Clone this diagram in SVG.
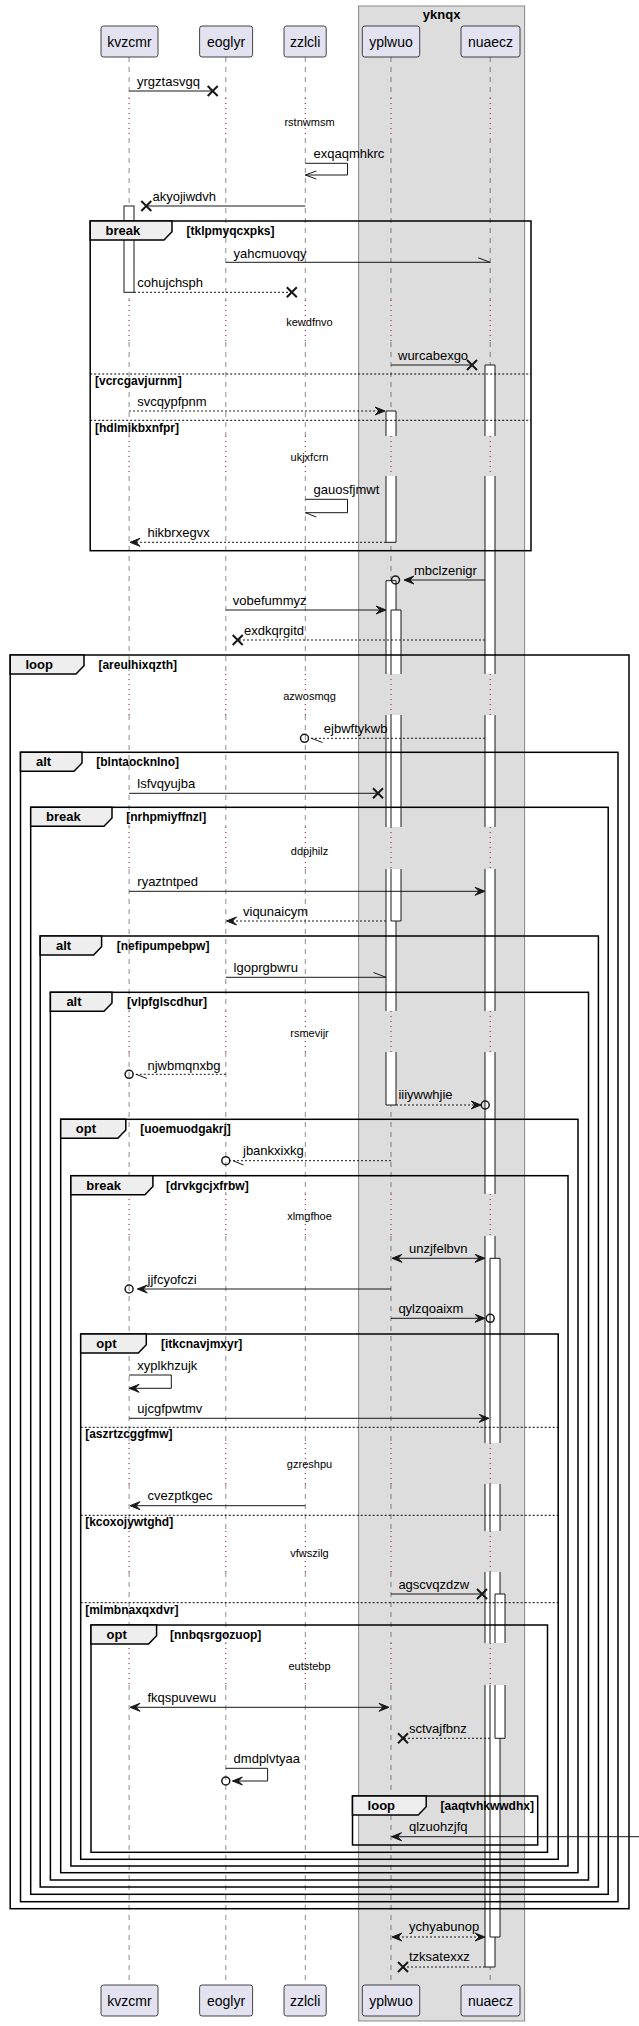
<svg xmlns="http://www.w3.org/2000/svg" xmlns:xlink="http://www.w3.org/1999/xlink" width="639" height="2026" viewBox="0 0 639 2026">
<style>
text{font-family:"Liberation Sans",Arial,sans-serif;fill:#000}
.pt{font-size:14px;text-anchor:middle}
.m{font-size:13px}
.dt{font-size:11px;text-anchor:middle}
.fl{font-size:13px;font-weight:bold}
.fc{font-size:12px;font-weight:bold}
.bt{font-size:13px;font-weight:bold;text-anchor:middle}
.pbox{fill:#E2E2F0;stroke:#181818;stroke-width:0.8}
.lld{fill:none;stroke:#181818;stroke-width:0.5;stroke-dasharray:5,5}
.llt{fill:none;stroke:#A80036;stroke-width:1;stroke-dasharray:1,4}
.af{fill:#fff;stroke:none}
.ao{fill:none;stroke:#181818;stroke-width:1}
.ln{fill:none;stroke:#181818;stroke-width:1}
.ds{stroke-dasharray:2,2}
.ah{fill:#181818;stroke:#181818;stroke-width:1}
.x{stroke:#181818;stroke-width:2}
.ci{fill:none;stroke:#181818;stroke-width:1.5}
.fr{fill:none;stroke:#000;stroke-width:1.5}
.tab{fill:#EEEEEE;stroke:#000;stroke-width:1.5}
.sep{stroke:#000;stroke-width:1;stroke-dasharray:2,2}
</style>
<defs>
<path id="lldash" d="M0,57V98M0,138V300M0,342V436M0,476V674M0,715V827M0,869V1011M0,1052V1194M0,1236V1443M0,1484V1531M0,1572V1643M0,1685V1985"/>
<path id="lldot" d="M0,98V138M0,300V342M0,436V476M0,674V715M0,827V869M0,1011V1052M0,1194V1236M0,1443V1484M0,1531V1572M0,1643V1685"/>
</defs>

<g id="yknqx">
<rect x="358.6" y="6" width="166" height="2015" fill="#DDDDDD" stroke="#888" stroke-width="1"/>
<text class="bt" x="441.6" y="19">yknqx</text>
</g>

<g id="lifelines">
<use xlink:href="#lldash" x="129.1" class="lld"/>
<use xlink:href="#lldot" x="129.1" class="llt"/>
<use xlink:href="#lldash" x="225.8" class="lld"/>
<use xlink:href="#lldot" x="225.8" class="llt"/>
<use xlink:href="#lldash" x="305.3" class="lld"/>
<use xlink:href="#lldot" x="305.3" class="llt"/>
<use xlink:href="#lldash" x="391" class="lld"/>
<use xlink:href="#lldot" x="391" class="llt"/>
<use xlink:href="#lldash" x="490.2" class="lld"/>
<use xlink:href="#lldot" x="490.2" class="llt"/>
</g>

<g id="activations">
<rect x="124" y="206" width="10" height="86.3" fill="#fff" stroke="#181818" stroke-width="1"/>
<g id="act-nuaecz-1">
<rect class="af" x="485" y="365" width="10" height="71"/>
<rect class="af" x="485" y="476" width="10" height="198"/>
<rect class="af" x="485" y="715" width="10" height="112"/>
<rect class="af" x="485" y="869" width="10" height="142"/>
<rect class="af" x="485" y="1052" width="10" height="142"/>
<rect class="af" x="485" y="1236" width="10" height="207"/>
<rect class="af" x="485" y="1484" width="10" height="47"/>
<rect class="af" x="485" y="1572" width="10" height="71"/>
<rect class="af" x="485" y="1685" width="10" height="282"/>
<path class="ao" d="M485,365H495M485,365V436M495,365V436M485,476V674M495,476V674M485,715V827M495,715V827M485,869V1011M495,869V1011M485,1052V1194M495,1052V1194M485,1236V1443M495,1236V1443M485,1484V1531M495,1484V1531M485,1572V1643M495,1572V1643M485,1685V1967M495,1685V1967M485,1967H495"/>
</g>
<g id="act-yplwuo-1">
<rect class="af" x="386" y="411" width="10" height="25"/>
<rect class="af" x="386" y="476" width="10" height="66.3"/>
<path class="ao" d="M386,411H396M386,411V436M396,411V436M386,476V542.3M396,476V542.3M386,542.3H396"/>
</g>
<g id="act-yplwuo-2">
<rect class="af" x="386" y="580.7" width="10" height="93.3"/>
<rect class="af" x="386" y="715" width="10" height="112"/>
<rect class="af" x="386" y="869" width="10" height="142"/>
<rect class="af" x="386" y="1052" width="10" height="53"/>
<path class="ao" d="M386,580.7H396M386,580.7V674M396,580.7V674M386,715V827M396,715V827M386,869V1011M396,869V1011M386,1052V1105M396,1052V1105M386,1105H396"/>
</g>
<g id="act-yplwuo-3">
<rect class="af" x="391" y="610" width="10" height="64"/>
<rect class="af" x="391" y="715" width="10" height="112"/>
<rect class="af" x="391" y="869" width="10" height="52"/>
<path class="ao" d="M391,610H401M391,610V674M401,610V674M391,715V827M401,715V827M391,869V921M401,869V921M391,921H401"/>
</g>
<g id="act-nuaecz-2">
<rect class="af" x="490" y="1258.3" width="10" height="184.7"/>
<rect class="af" x="490" y="1484" width="10" height="47"/>
<rect class="af" x="490" y="1572" width="10" height="71"/>
<rect class="af" x="490" y="1685" width="10" height="252"/>
<path class="ao" d="M490,1258.3H500M490,1258.3V1443M500,1258.3V1443M490,1484V1531M500,1484V1531M490,1572V1643M500,1572V1643M490,1685V1937M500,1685V1937M490,1937H500"/>
</g>
<g id="act-nuaecz-3">
<rect class="af" x="495" y="1594" width="10" height="49"/>
<rect class="af" x="495" y="1685" width="10" height="53.3"/>
<path class="ao" d="M495,1594H505M495,1594V1643M505,1594V1643M495,1685V1738.3M505,1685V1738.3M495,1738.3H505"/>
</g>
</g>

<g id="frames">
<g id="f-break-1">
<rect class="fr" x="90.2" y="221" width="440.8" height="329.7"/>
<polygon class="tab" points="90.2,221 172,221 172,231.7 164,240 90.2,240"/>
<text class="fl" x="105.5" y="235">break</text>
<text class="fc" x="186.5" y="235">[tklpmyqcxpks]</text>
<line class="sep" x1="90.2" y1="374" x2="531" y2="374"/>
<text class="fc" x="95" y="385">[vcrcgavjurnm]</text>
<line class="sep" x1="90.2" y1="420.3" x2="531" y2="420.3"/>
<text class="fc" x="95" y="431.5">[hdlmikbxnfpr]</text>
</g>
<g id="f-loop-1">
<rect class="fr" x="10.2" y="655" width="618.8" height="1253.7"/>
<polygon class="tab" points="10.2,655 84,655 84,665.7 76,674 10.2,674"/>
<text class="fl" x="25.4" y="669">loop</text>
<text class="fc" x="98.4" y="669">[areulhixqzth]</text>
</g>
<g id="f-alt-1">
<rect class="fr" x="20.5" y="752.3" width="597.5" height="1149.4"/>
<polygon class="tab" points="20.5,752.3 82,752.3 82,763 74,771.3 20.5,771.3"/>
<text class="fl" x="36" y="766.3">alt</text>
<text class="fc" x="96.3" y="766.3">[blntaocknlno]</text>
</g>
<g id="f-break-2">
<rect class="fr" x="30.7" y="807.3" width="577.5" height="1087"/>
<polygon class="tab" points="30.7,807.3 112,807.3 112,818 104,826.3 30.7,826.3"/>
<text class="fl" x="46" y="821.3">break</text>
<text class="fc" x="126.2" y="821.3">[nrhpmiyffnzl]</text>
</g>
<g id="f-alt-2">
<rect class="fr" x="40.2" y="936" width="558.2" height="951"/>
<polygon class="tab" points="40.2,936 101.6,936 101.6,946.7 93.6,955 40.2,955"/>
<text class="fl" x="56" y="950">alt</text>
<text class="fc" x="116.8" y="950">[nefipumpebpw]</text>
</g>
<g id="f-alt-3">
<rect class="fr" x="50.4" y="992.3" width="538.1" height="887.7"/>
<polygon class="tab" points="50.4,992.3 112,992.3 112,1003 104,1011.3 50.4,1011.3"/>
<text class="fl" x="66.4" y="1006.3">alt</text>
<text class="fc" x="127" y="1006.3">[vlpfglscdhur]</text>
</g>
<g id="f-opt-1">
<rect class="fr" x="60.7" y="1119.3" width="517.3" height="753.4"/>
<polygon class="tab" points="60.7,1119.3 125.8,1119.3 125.8,1130 117.8,1138.3 60.7,1138.3"/>
<text class="fl" x="75.8" y="1133.3">opt</text>
<text class="fc" x="140.2" y="1133.3">[uoemuodgakrj]</text>
</g>
<g id="f-break-3">
<rect class="fr" x="70.9" y="1175.7" width="497.1" height="690.3"/>
<polygon class="tab" points="70.9,1175.7 152.9,1175.7 152.9,1186.4 144.9,1194.7 70.9,1194.7"/>
<text class="fl" x="86.2" y="1189.7">break</text>
<text class="fc" x="166" y="1189.7">[drvkgcjxfrbw]</text>
</g>
<g id="f-opt-2">
<rect class="fr" x="80.7" y="1334" width="477.5" height="525.3"/>
<polygon class="tab" points="80.7,1334 146.3,1334 146.3,1344.7 138.3,1353 80.7,1353"/>
<text class="fl" x="96.3" y="1348">opt</text>
<text class="fc" x="161" y="1348">[itkcnavjmxyr]</text>
<line class="sep" x1="80.7" y1="1427.3" x2="558.2" y2="1427.3"/>
<text class="fc" x="85.2" y="1438.3">[aszrtzcggfmw]</text>
<line class="sep" x1="80.7" y1="1515.3" x2="558.2" y2="1515.3"/>
<text class="fc" x="85.2" y="1526.3">[kcoxojywtghd]</text>
<line class="sep" x1="80.7" y1="1602.7" x2="558.2" y2="1602.7"/>
<text class="fc" x="85.2" y="1613.7">[mlmbnaxqxdvr]</text>
</g>
<g id="f-opt-3">
<rect class="fr" x="91" y="1625" width="456.5" height="227.3"/>
<polygon class="tab" points="91,1625 156.6,1625 156.6,1635.7 148.6,1644 91,1644"/>
<text class="fl" x="106.6" y="1639">opt</text>
<text class="fc" x="170" y="1639">[nnbqsrgozuop]</text>
</g>
<g id="f-loop-2">
<rect class="fr" x="352.5" y="1796" width="185.2" height="49"/>
<polygon class="tab" points="352.5,1796 426.2,1796 426.2,1806.7 418.2,1815 352.5,1815"/>
<text class="fl" x="367.6" y="1810">loop</text>
<text class="fc" x="440.6" y="1810">[aaqtvhkwwdhx]</text>
</g>
</g>

<g id="delays">
<text class="dt" x="309.5" y="125.5">rstnwmsm</text>
<text class="dt" x="309.5" y="326">kewdfnvo</text>
<text class="dt" x="309.5" y="461">ukjxfcrn</text>
<text class="dt" x="309.5" y="699.5">azwosmqg</text>
<text class="dt" x="309.5" y="854.5">ddpjhilz</text>
<text class="dt" x="309.5" y="1036.5">rsmevijr</text>
<text class="dt" x="309.5" y="1220">xlmgfhoe</text>
<text class="dt" x="309.5" y="1468">gzreshpu</text>
<text class="dt" x="309.5" y="1557">vfwszilg</text>
<text class="dt" x="309.5" y="1669.5">eutstebp</text>
</g>

<g id="connectors">
<g><path class="ln" d="M129.1,91H212.7"/><path class="x" d="M207.7,86L217.7,96M207.7,96L217.7,86"/><text class="m" x="137" y="86">yrgztasvgq</text></g>
<g><path class="ln" d="M305.3,163.3H347.5V175H305.3"/><path class="ln" d="M316.3,171L305.3,175L316.3,179"/><text class="m" x="313.5" y="158">exqaqmhkrc</text></g>
<g><path class="ln" d="M305.3,206H146.3"/><path class="x" d="M141.3,201L151.3,211M141.3,211L151.3,201"/><text class="m" x="152.5" y="201">akyojiwdvh</text></g>
<g><path class="ln" d="M225.8,262.3H490.2"/><path class="ln" d="M490.2,262.3L478.2,257.8"/><text class="m" x="233.6" y="257.5">yahcmuovqy</text></g>
<g><path class="ln ds" d="M134,292.3H291.8"/><path class="x" d="M286.8,287.3L296.8,297.3M286.8,297.3L296.8,287.3"/><text class="m" x="137.3" y="287">cohujchsph</text></g>
<g><path class="ln" d="M391,365H472"/><path class="x" d="M467,360L477,370M467,370L477,360"/><text class="m" x="398" y="360">wurcabexgo</text></g>
<g><path class="ln ds" d="M129.1,411H383"/><polygon class="ah" points="385,411 375,407 379,411 375,415"/><text class="m" x="137.3" y="405.5">svcqypfpnm</text></g>
<g><path class="ln" d="M305.3,499.3H347.5V512.7H305.3"/><path class="ln" d="M305.3,512.7L316.3,517"/><text class="m" x="313.5" y="494">gauosfjmwt</text></g>
<g><path class="ln ds" d="M386,542.3H132"/><polygon class="ah" points="130,542.3 140,538.3 136,542.3 140,546.3"/><text class="m" x="147.5" y="537">hikbrxegvx</text></g>
<g><path class="ln" d="M485,580H406"/><polygon class="ah" points="404,580 414,576 410,580 414,584"/><circle class="ci" cx="395.5" cy="580" r="4"/><text class="m" x="414" y="575">mbclzenigr</text></g>
<g><path class="ln" d="M225.8,610H384"/><polygon class="ah" points="386,610 376,606 380,610 376,614"/><text class="m" x="232.8" y="605">vobefummyz</text></g>
<g><path class="ln ds" d="M485,640H237.7"/><path class="x" d="M232.7,635L242.7,645M232.7,645L242.7,635"/><text class="m" x="244" y="635">exdkqrgitd</text></g>
<g><path class="ln ds" d="M485,738.3H308.5"/><circle class="ci" cx="304.5" cy="738.3" r="4"/><path class="ln" d="M311.5,738.3L322.5,742.5"/><text class="m" x="323.8" y="733">ejbwftykwb</text></g>
<g><path class="ln" d="M129.1,793.3H378"/><path class="x" d="M373,788.3L383,798.3M373,798.3L383,788.3"/><text class="m" x="137.3" y="788">lsfvqyujba</text></g>
<g><path class="ln" d="M129.1,891.3H483"/><polygon class="ah" points="485,891.3 475,887.3 479,891.3 475,895.3"/><text class="m" x="137.3" y="886">ryaztntped</text></g>
<g><path class="ln ds" d="M386,921H228.5"/><polygon class="ah" points="226.5,921 236.5,917 232.5,921 236.5,925"/><text class="m" x="243" y="915.5">viqunaicym</text></g>
<g><path class="ln" d="M225.8,977.3H386"/><path class="ln" d="M386,977.3L373.5,972.5"/><text class="m" x="233.6" y="971.5">lgoprgbwru</text></g>
<g><path class="ln ds" d="M225.8,1074.3H133.1"/><circle class="ci" cx="129.1" cy="1074.3" r="4"/><path class="ln" d="M136,1074.3L147,1078.5"/><text class="m" x="147.5" y="1069.5">njwbmqnxbg</text></g>
<g><path class="ln ds" d="M396,1105H479"/><polygon class="ah" points="481,1105 471,1101 475,1105 471,1109"/><circle class="ci" cx="485.2" cy="1105" r="4"/><text class="m" x="398.4" y="1099">iiiywwhjie</text></g>
<g><path class="ln ds" d="M391,1160.7H229.8"/><circle class="ci" cx="225.8" cy="1160.7" r="4"/><path class="ln" d="M233,1160.7L243.5,1165"/><text class="m" x="243" y="1155">jbankxixkg</text></g>
<g><path class="ln" d="M393,1258.3H483"/><polygon class="ah" points="392,1258.3 402,1254.3 398,1258.3 402,1262.3"/><polygon class="ah" points="485,1258.3 475,1254.3 479,1258.3 475,1262.3"/><text class="m" x="409" y="1253">unzjfelbvn</text></g>
<g><path class="ln" d="M391,1289H139"/><polygon class="ah" points="137.3,1289 147.3,1285 143.3,1289 147.3,1293"/><circle class="ci" cx="129.1" cy="1289" r="4"/><text class="m" x="147.5" y="1283.5">jjfcyofczi</text></g>
<g><path class="ln" d="M391,1318.3H483"/><polygon class="ah" points="485,1318.3 475,1314.3 479,1318.3 475,1322.3"/><circle class="ci" cx="490.2" cy="1318.3" r="4"/><text class="m" x="398.4" y="1313">qylzqoaixm</text></g>
<g><path class="ln" d="M129.1,1375H171.3V1388.3H131"/><polygon class="ah" points="129.1,1388.3 139.1,1384.3 135.1,1388.3 139.1,1392.3"/><text class="m" x="137.3" y="1369.5">xyplkhzujk</text></g>
<g><path class="ln" d="M129.1,1418.3H487"/><polygon class="ah" points="489,1418.3 479,1414.3 483,1418.3 479,1422.3"/><text class="m" x="137.3" y="1413">ujcgfpwtmv</text></g>
<g><path class="ln" d="M305.3,1505.7H132"/><polygon class="ah" points="130,1505.7 140,1501.7 136,1505.7 140,1509.7"/><text class="m" x="147.5" y="1500">cvezptkgec</text></g>
<g><path class="ln" d="M391,1594H482"/><path class="x" d="M477,1589L487,1599M477,1599L487,1589"/><text class="m" x="398.4" y="1589">agscvqzdzw</text></g>
<g><path class="ln" d="M132,1707.3H387"/><polygon class="ah" points="130,1707.3 140,1703.3 136,1707.3 140,1711.3"/><polygon class="ah" points="389,1707.3 379,1703.3 383,1707.3 379,1711.3"/><text class="m" x="147.5" y="1701.5">fkqspuvewu</text></g>
<g><path class="ln ds" d="M490,1738.3H403"/><path class="x" d="M398,1733.3L408,1743.3M398,1743.3L408,1733.3"/><text class="m" x="409" y="1732.5">sctvajfbnz</text></g>
<g><path class="ln" d="M225.8,1768.3H267.6V1781H234.5"/><polygon class="ah" points="232.4,1781 242.4,1777 238.4,1781 242.4,1785"/><circle class="ci" cx="225.8" cy="1781" r="4"/><text class="m" x="233.6" y="1763">dmdplvtyaa</text></g>
<g><path class="ln" d="M639,1836.7H393.5"/><polygon class="ah" points="391.5,1836.7 401.5,1832.7 397.5,1836.7 401.5,1840.7"/><text class="m" x="409" y="1831">qlzuohzjfq</text></g>
<g><path class="ln ds" d="M394,1937H483"/><polygon class="ah" points="392,1937 402,1933 398,1937 402,1941"/><polygon class="ah" points="485,1937 475,1933 479,1937 475,1941"/><text class="m" x="409" y="1931">ychyabunop</text></g>
<g><path class="ln ds" d="M485,1967H403"/><path class="x" d="M398,1962L408,1972M398,1972L408,1962"/><text class="m" x="409" y="1961">tzksatexxz</text></g>
</g>

<g id="kvzcmr"><rect class="pbox" x="101" y="26" width="57" height="31" rx="2.5"/><text class="pt" x="129.5" y="47">kvzcmr</text><rect class="pbox" x="101" y="1985" width="57" height="31" rx="2.5"/><text class="pt" x="129.5" y="2006">kvzcmr</text></g>
<g id="eoglyr"><rect class="pbox" x="199.6" y="26" width="53" height="31" rx="2.5"/><text class="pt" x="226" y="47">eoglyr</text><rect class="pbox" x="199.6" y="1985" width="53" height="31" rx="2.5"/><text class="pt" x="226" y="2006">eoglyr</text></g>
<g id="zzlcli"><rect class="pbox" x="284" y="26" width="42.2" height="31" rx="2.5"/><text class="pt" x="305.1" y="47">zzlcli</text><rect class="pbox" x="284" y="1985" width="42.2" height="31" rx="2.5"/><text class="pt" x="305.1" y="2006">zzlcli</text></g>
<g id="yplwuo"><rect class="pbox" x="362.3" y="26" width="57.4" height="31" rx="2.5"/><text class="pt" x="391" y="47">yplwuo</text><rect class="pbox" x="362.3" y="1985" width="57.4" height="31" rx="2.5"/><text class="pt" x="391" y="2006">yplwuo</text></g>
<g id="nuaecz"><rect class="pbox" x="461" y="26" width="59" height="31" rx="2.5"/><text class="pt" x="490.5" y="47">nuaecz</text><rect class="pbox" x="461" y="1985" width="59" height="31" rx="2.5"/><text class="pt" x="490.5" y="2006">nuaecz</text></g>
</svg>
